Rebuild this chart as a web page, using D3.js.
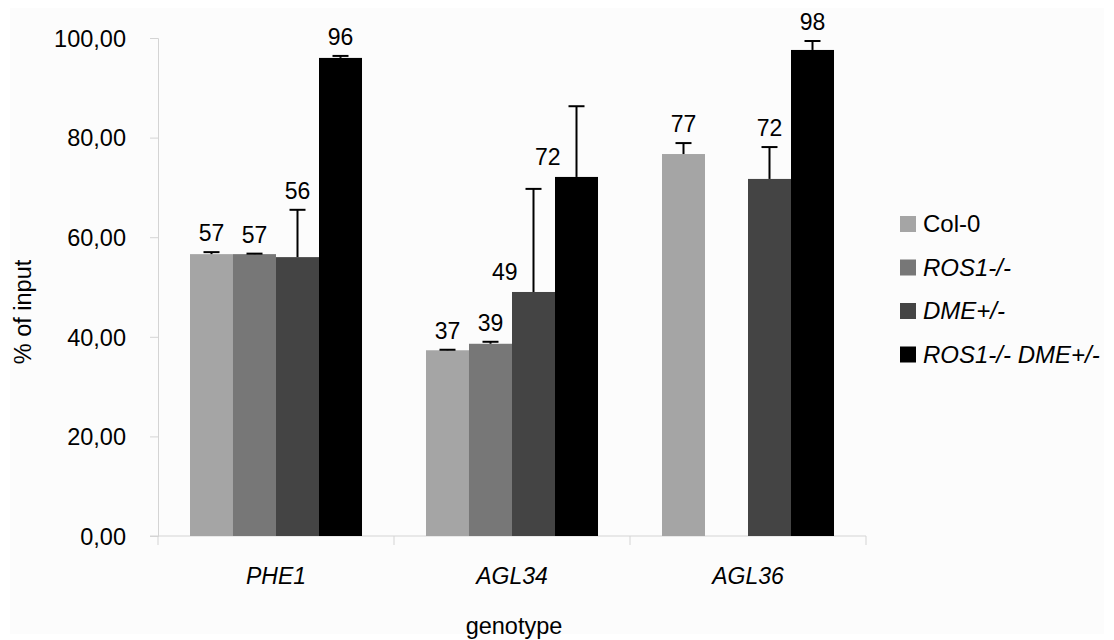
<!DOCTYPE html>
<html>
<head>
<meta charset="utf-8">
<script src="https://cdn.jsdelivr.net/npm/d3@7"></script>
<style>
  body { margin: 0; background: #fff; }
  text { font-family: Arial, "Liberation Sans", sans-serif; fill: #000; }
</style>
</head>
<body>
<svg id="chart" width="1114" height="640"></svg>
<script>
// values
var genes = ["PHE1", "AGL34", "AGL36"];
var seriesNames = ["Col-0", "ROS1-/-", "DME+/-", "ROS1-/- DME+/-"];
var col0 = [56.6, 37.3, 76.7];
var col0Err = [0.4, 0.1, 2.2];
var ros1 = [56.6, 38.6, null];
var ros1Err = [0.1, 0.4, null];
var dme = [56.0, 49.0, 71.7];
var dmeErr = [9.5, 20.7, 6.4];
var ros1dme = [96.0, 72.1, 97.6];
var ros1dmeErr = [0.4, 14.2, 1.8];
var yTicks = [0, 20, 40, 60, 80, 100];

var seriesValues = [col0, ros1, dme, ros1dme];
var seriesErrors = [col0Err, ros1Err, dmeErr, ros1dmeErr];
var colors = ["#a5a5a5", "#777777", "#444444", "#000000"];

var width = 1114, height = 640;
var svg = d3.select("#chart");

// faint chart area background
svg.append("rect")
    .attr("x", 10).attr("y", 8)
    .attr("width", width - 20).attr("height", height - 14)
    .attr("fill", "#fcfcfc");

var x = d3.scaleBand().domain(genes).range([158, 866]).paddingInner(0).paddingOuter(0);
var xs = d3.scaleBand().domain(seriesNames).range([0, x.bandwidth()]).paddingInner(0).paddingOuter(0.744);
var y = d3.scaleLinear().domain([0, 100]).range([536, 38]);

// flatten rows for drawing
var rows = [];
genes.forEach(function (g, gi) {
    seriesNames.forEach(function (s, si) {
        var v = seriesValues[si][gi];
        if (v == null) return;
        rows.push({ gene: g, series: s, si: si, value: v, err: seriesErrors[si][gi] });
    });
});

// y axis
var yAxis = d3.axisLeft(y).tickValues(yTicks).tickSize(8).tickPadding(24)
    .tickFormat(function (d) { return d3.format(".2f")(d).replace(".", ","); });
var gy = svg.append("g").attr("transform", "translate(158,0)").call(yAxis);
gy.select(".domain").attr("stroke", "#d4d4d4");
gy.selectAll(".tick line").attr("stroke", "#d4d4d4");
gy.selectAll(".tick text").style("font-size", "23.5px").attr("dy", "0.35em");

// x axis
var gx = svg.append("g").attr("transform", "translate(0,536)");
gx.append("line").attr("x1", 150).attr("x2", 866).attr("y1", 0).attr("y2", 0).attr("stroke", "#d4d4d4");
gx.selectAll(".sep")
    .data(genes.concat(["end"]))
    .enter().append("line")
    .attr("x1", function (d, i) { return i < genes.length ? x(d) : x(genes[genes.length - 1]) + x.bandwidth(); })
    .attr("x2", function (d, i) { return i < genes.length ? x(d) : x(genes[genes.length - 1]) + x.bandwidth(); })
    .attr("y1", 0).attr("y2", 9)
    .attr("stroke", "#d4d4d4");
gx.selectAll(".glabel")
    .data(genes)
    .enter().append("text")
    .attr("x", function (d) { return x(d) + x.bandwidth() / 2; })
    .attr("y", 48)
    .attr("text-anchor", "middle")
    .style("font-size", "23px")
    .style("font-style", "italic")
    .text(function (d) { return d; });

// bars
svg.selectAll(".bar")
    .data(rows)
    .enter().append("rect")
    .attr("x", function (d) { return x(d.gene) + xs(d.series); })
    .attr("width", xs.bandwidth())
    .attr("y", function (d) { return y(d.value); })
    .attr("height", function (d) { return y(0) - y(d.value); })
    .attr("fill", function (d) { return colors[d.si]; });

// error bars (upper only)
var eb = svg.selectAll(".err").data(rows).enter().append("g");
eb.append("line")
    .attr("x1", function (d) { return x(d.gene) + xs(d.series) + xs.bandwidth() / 2; })
    .attr("x2", function (d) { return x(d.gene) + xs(d.series) + xs.bandwidth() / 2; })
    .attr("y1", function (d) { return y(d.value); })
    .attr("y2", function (d) { return y(d.value + d.err); })
    .attr("stroke", "#000").attr("stroke-width", 2);
eb.append("line")
    .attr("x1", function (d) { return x(d.gene) + xs(d.series) + xs.bandwidth() / 2 - 8; })
    .attr("x2", function (d) { return x(d.gene) + xs(d.series) + xs.bandwidth() / 2 + 8; })
    .attr("y1", function (d) { return y(d.value + d.err); })
    .attr("y2", function (d) { return y(d.value + d.err); })
    .attr("stroke", "#000").attr("stroke-width", 2);

// value labels: above the cap, or beside the whisker when it is tall
svg.selectAll(".vlabel")
    .data(rows)
    .enter().append("text")
    .attr("x", function (d) {
        var cx = x(d.gene) + xs(d.series) + xs.bandwidth() / 2;
        return d.err > 12 ? cx - 16 : cx;
    })
    .attr("y", function (d) { return d.err > 12 ? y(d.value) - 12 : y(d.value + d.err) - 11; })
    .attr("text-anchor", function (d) { return d.err > 12 ? "end" : "middle"; })
    .style("font-size", "23px")
    .text(function (d) { return Math.round(d.value); });

// axis titles
svg.append("text")
    .attr("transform", "translate(31,312) rotate(-90)")
    .attr("text-anchor", "middle")
    .style("font-size", "23.5px")
    .text("% of input");
svg.append("text")
    .attr("x", 514).attr("y", 634)
    .attr("text-anchor", "middle")
    .style("font-size", "23.5px")
    .text("genotype");

// legend
var legend = svg.selectAll(".leg")
    .data(seriesNames)
    .enter().append("g")
    .attr("transform", function (d, i) { return "translate(900," + (224 + i * 43.5) + ")"; });
legend.append("rect")
    .attr("x", 0).attr("y", -8).attr("width", 16).attr("height", 16)
    .attr("fill", function (d, i) { return colors[i]; });
legend.append("text")
    .attr("x", 23).attr("y", 0).attr("dy", "0.35em")
    .style("font-size", "24px")
    .style("font-style", function (d, i) { return i == 0 ? "normal" : "italic"; })
    .text(function (d) { return d; });
</script>
</body>
</html>
